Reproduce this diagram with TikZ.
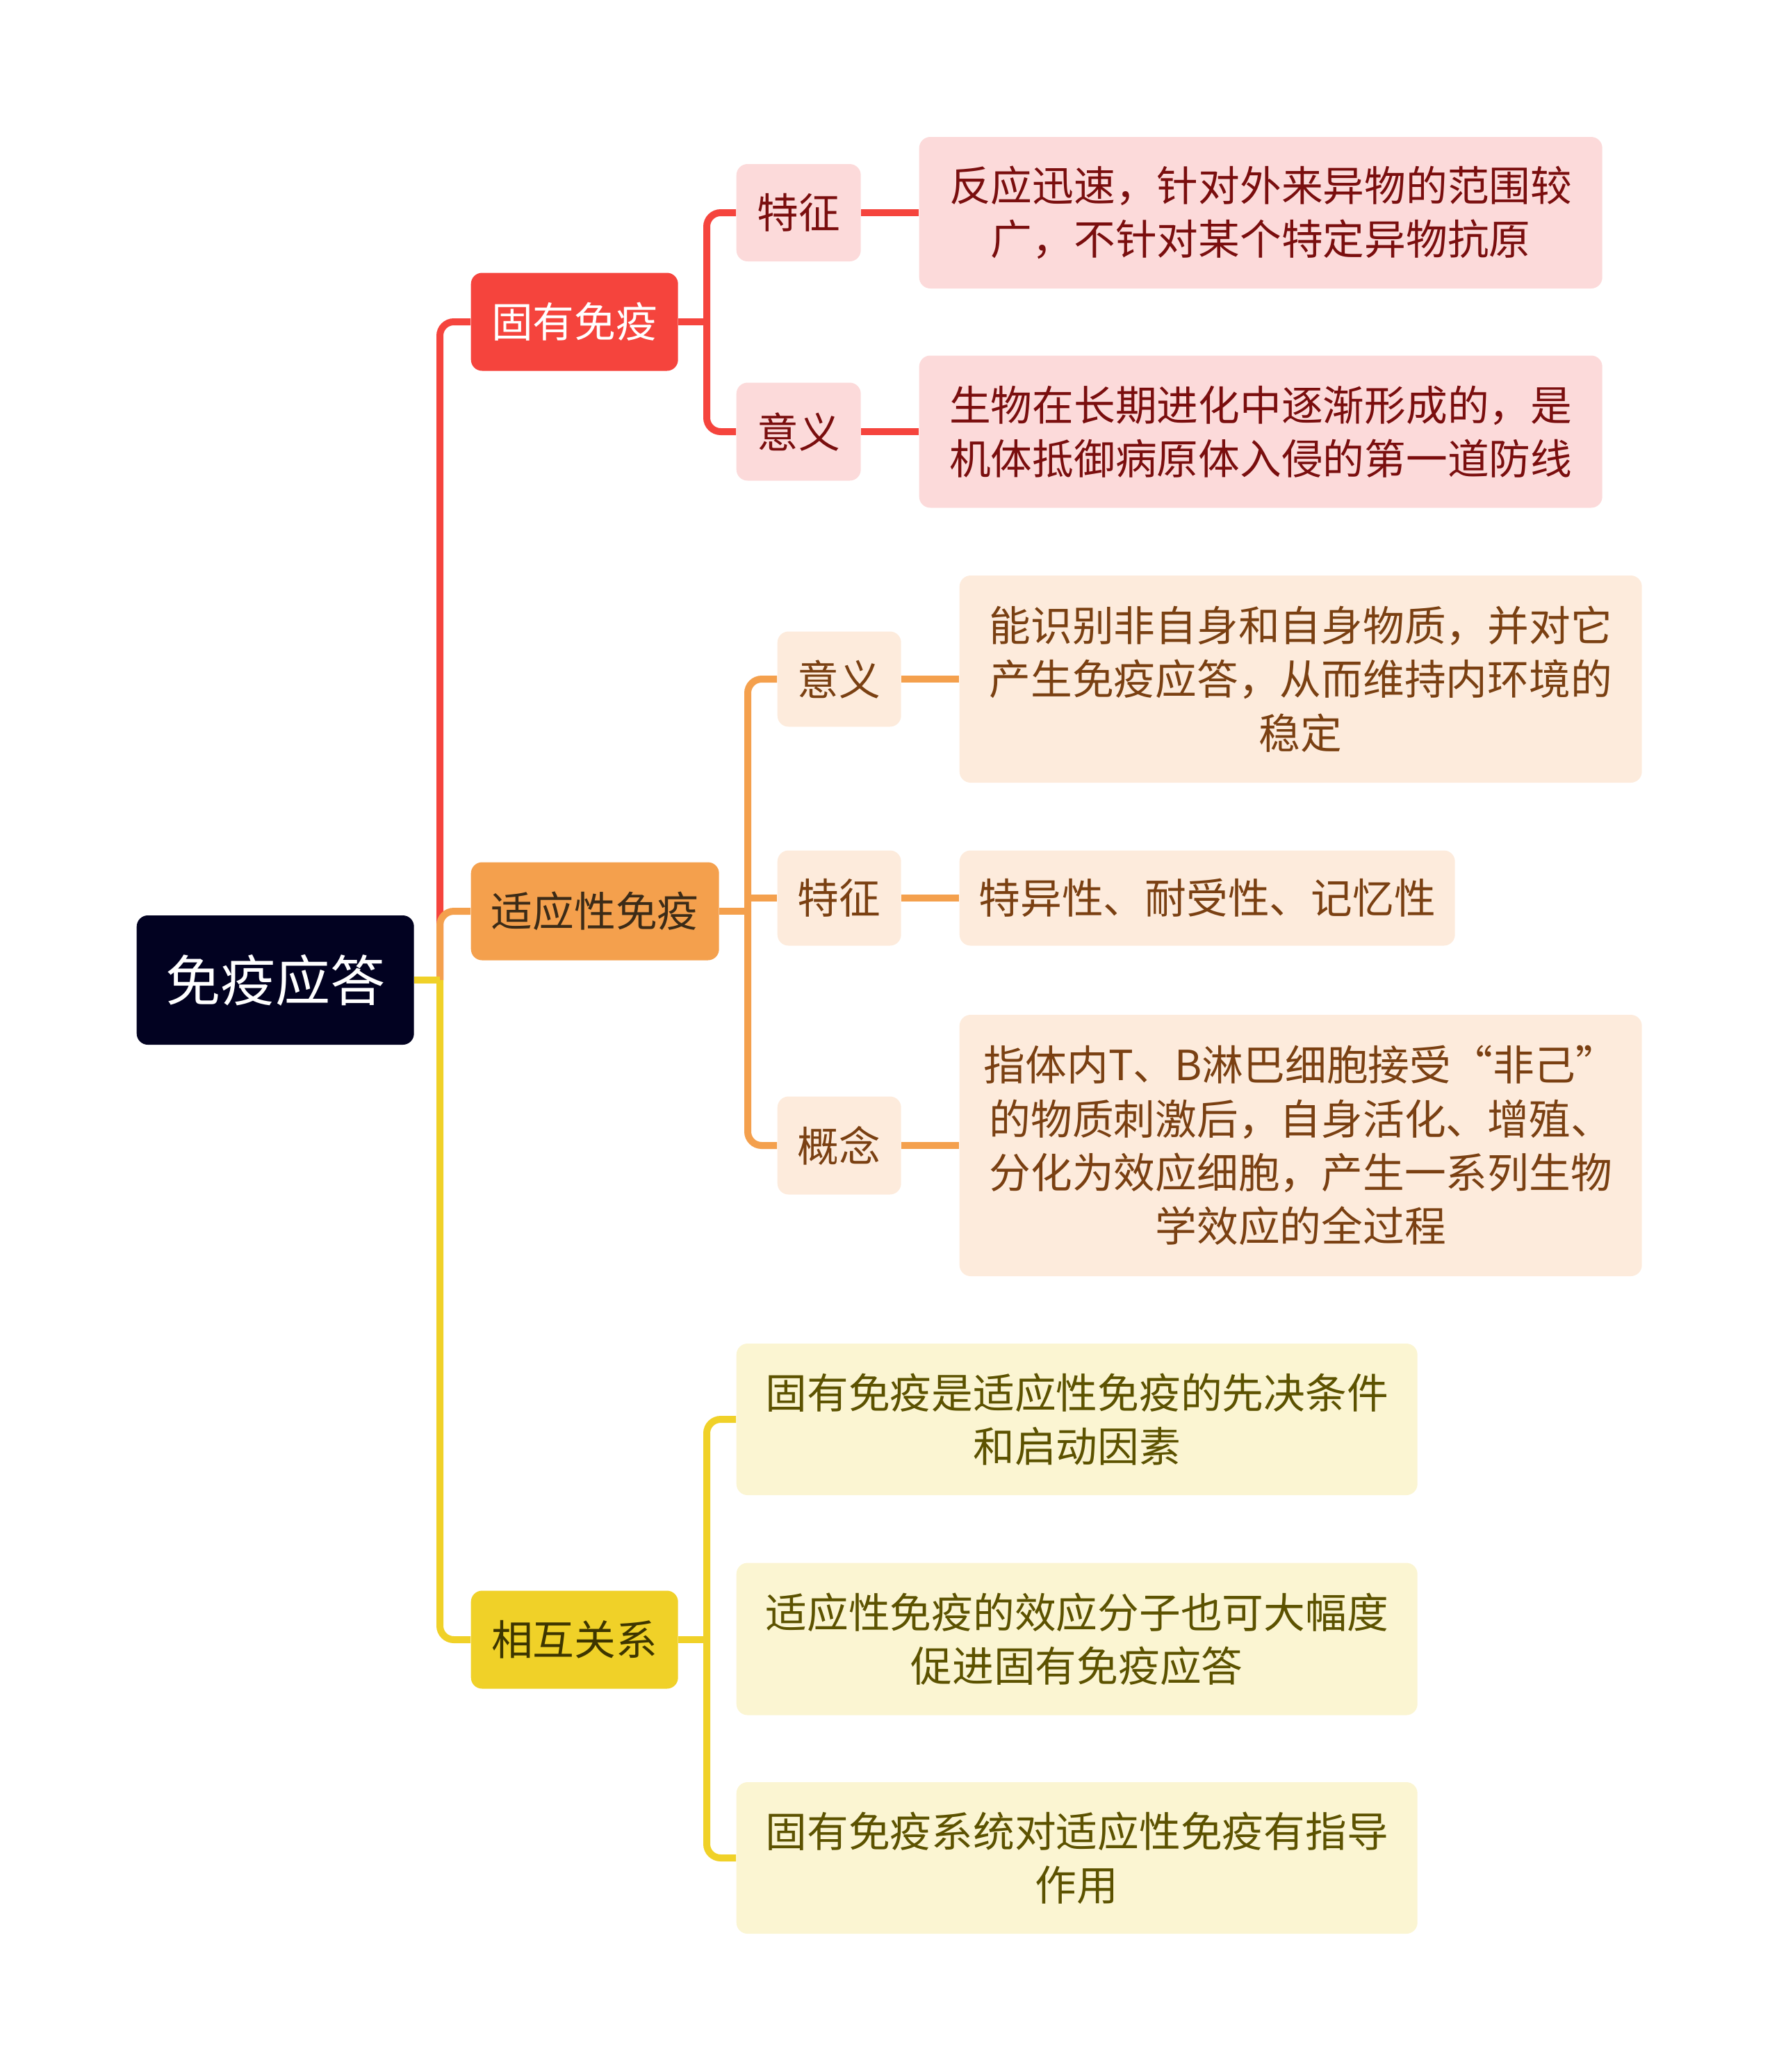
\documentclass[tikz,border=0pt]{standalone}
\usepackage{fontspec}
\setmainfont{Noto Sans CJK SC}
\usetikzlibrary{positioning}
\definecolor{rootfill}{HTML}{020221}
\definecolor{redmain}{HTML}{F5443D}
\definecolor{redsoft}{HTML}{FCDADA}
\definecolor{redtext}{HTML}{7A0E0E}
\definecolor{orgmain}{HTML}{F4A04D}
\definecolor{orgsoft}{HTML}{FDEBDC}
\definecolor{orgtext}{HTML}{7A4012}
\definecolor{orgdark}{HTML}{3C2B17}
\definecolor{ylwmain}{HTML}{F0D128}
\definecolor{ylwsoft}{HTML}{FBF5D2}
\definecolor{ylwtext}{HTML}{5C5200}
\definecolor{ylwdark}{HTML}{3D3500}
\tikzset{
  box/.style={rounded corners=0.16cm,inner sep=0pt,align=center,anchor=west,
    font=\fontsize{17}{22}\selectfont},
  sized/.style 2 args={minimum width=#1cm,minimum height=#2cm},
  link/.style={line width=1mm,rounded corners=0.2cm},
}
\begin{document}
\begin{tikzpicture}
\useasboundingbox (0,0) rectangle (25.60,-29.81);
\node[box,sized={3.99}{1.86},fill=rootfill,text=white,font=\fontsize{22.5}{27}\selectfont] (root) at (1.96,-14.10) {免疫应答};
\node[box,sized={2.98}{1.41},fill=redmain,text=white] (innate) at (6.77,-4.63) {固有免疫};
\node[box,sized={3.57}{1.41},fill=orgmain,text=orgdark] (adapt) at (6.77,-13.11) {适应性免疫};
\node[box,sized={2.98}{1.41},fill=ylwmain,text=ylwdark] (rel) at (6.77,-23.59) {相互关系};
\node[box,sized={1.79}{1.40},fill=redsoft,text=redtext] (inFeat) at (10.59,-3.06) {特征};
\node[box,sized={1.79}{1.41},fill=redsoft,text=redtext] (inMean) at (10.59,-6.21) {意义};
\node[box,sized={9.83}{2.18},fill=redsoft,text=redtext] (inFeatTxt) at (13.22,-3.06) {反应迅速，针对外来异物的范围较\\广，不针对某个特定异物抗原};
\node[box,sized={9.83}{2.19},fill=redsoft,text=redtext] (inMeanTxt) at (13.22,-6.21) {生物在长期进化中逐渐形成的，是\\机体抵御病原体入侵的第一道防线};
\node[box,sized={1.78}{1.37},fill=orgsoft,text=orgtext] (adMean) at (11.18,-9.77) {意义};
\node[box,sized={1.78}{1.37},fill=orgsoft,text=orgtext] (adFeat) at (11.18,-12.92) {特征};
\node[box,sized={1.78}{1.41},fill=orgsoft,text=orgtext] (adConc) at (11.18,-16.48) {概念};
\node[box,sized={9.82}{2.98},fill=orgsoft,text=orgtext] (adMeanTxt) at (13.80,-9.77) {能识别非自身和自身物质，并对它\\产生免疫应答，从而维持内环境的\\稳定};
\node[box,sized={7.13}{1.37},fill=orgsoft,text=orgtext] (adFeatTxt) at (13.80,-12.92) {特异性、耐受性、记忆性};
\node[box,sized={9.82}{3.76},fill=orgsoft,text=orgtext] (adConcTxt) at (13.80,-16.48) {指体内T、B淋巴细胞接受“非己”\\的物质刺激后，自身活化、增殖、\\分化为效应细胞，产生一系列生物\\学效应的全过程};
\node[box,sized={9.80}{2.18},fill=ylwsoft,text=ylwtext] (relA) at (10.59,-20.42) {固有免疫是适应性免疫的先决条件\\和启动因素};
\node[box,sized={9.80}{2.19},fill=ylwsoft,text=ylwtext] (relB) at (10.59,-23.58) {适应性免疫的效应分子也可大幅度\\促进固有免疫应答};
\node[box,sized={9.80}{2.18},fill=ylwsoft,text=ylwtext] (relC) at (10.59,-26.73) {固有免疫系统对适应性免疫有指导\\作用};
\coordinate (trunk) at (6.33,-14.10);
\coordinate (inFork) at (10.17,-4.63);
\coordinate (adFork) at (10.76,-13.11);
\coordinate (relFork) at (10.17,-23.59);
\draw[link,redmain] (trunk) |- (innate.west);
\draw[link,redmain] (innate.east) -- (inFork);
\draw[link,redmain] (inFork) |- (inFeat.west);
\draw[link,redmain] (inFork) |- (inMean.west);
\draw[link,redmain] (inFeat.east) -- (inFeatTxt.west);
\draw[link,redmain] (inMean.east) -- (inMeanTxt.west);
\draw[link,orgmain] (trunk) |- (adapt.west);
\draw[link,orgmain] (adapt.east) -- (adFork);
\draw[link,orgmain] (adFork) |- (adMean.west);
\draw[link,orgmain] (adFork) |- (adConc.west);
\draw[link,orgmain] (adFork |- adFeat.west) -- (adFeat.west);
\draw[link,orgmain] (adMean.east) -- (adMeanTxt.west);
\draw[link,orgmain] (adFeat.east) -- (adFeatTxt.west);
\draw[link,orgmain] (adConc.east) -- (adConcTxt.west);
\draw[link,ylwmain] (trunk) |- (rel.west);
\draw[link,ylwmain] (root.east) -- (trunk);
\draw[link,ylwmain] (rel.east) -- (relFork);
\draw[link,ylwmain] (relFork) |- (relA.west);
\draw[link,ylwmain] (relFork) |- (relC.west);
\end{tikzpicture}
\end{document}
